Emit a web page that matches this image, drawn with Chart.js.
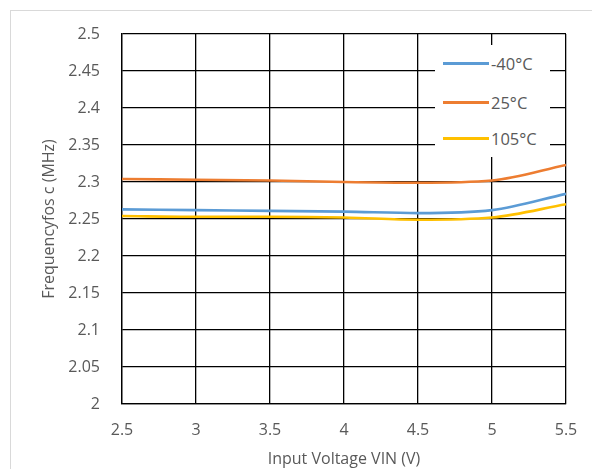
<!DOCTYPE html>
<html>
<head>
<meta charset="utf-8">
<script src="https://cdn.jsdelivr.net/npm/chart.js@4.4.0/dist/chart.umd.min.js"></script>
<style>
  html, body { margin: 0; padding: 0; background: #fff; }
  #wrap { position: relative; width: 592px; height: 469px; overflow: hidden; }
  #frame { position: absolute; left: 10px; top: 10px; width: 600px; height: 480px; border: 1px solid #d9d9d9; }
  canvas { position: absolute; left: 0; top: 0; }
  #legend { position: absolute; left: 435px; top: 45px; width: 115px; height: 112px; background: #fff;
    font-family: "Open Sans", sans-serif; font-size: 16.5px; color: #595959; }
  #legend .item { position: absolute; left: 8px; height: 22px; display: flex; align-items: center; }
  #legend .swatch { width: 46px; height: 3px; margin-right: 2px; }
</style>
</head>
<body>
<div id="wrap">
  <div id="frame"></div>
  <canvas id="freqChart" width="592" height="469"></canvas>
  <div id="legend"></div>
</div>
<script>
const vin = [2.5, 3, 3.5, 4, 4.5, 5, 5.5];
const freqM40 = [2.263, 2.262, 2.261, 2.260, 2.258, 2.262, 2.284];
const freq25 = [2.304, 2.303, 2.302, 2.300, 2.299, 2.302, 2.323];
const freq105 = [2.254, 2.253, 2.253, 2.252, 2.249, 2.252, 2.270];
const seriesNames = ['-40°C', '25°C', '105°C'];
const seriesColors = ['#5B9BD5', '#ED7D31', '#FFC000'];
const xTickLabels = ['2.5', '3', '3.5', '4', '4.5', '5', '5.5'];
const yTickLabels = ['2', '2.05', '2.1', '2.15', '2.2', '2.25', '2.3', '2.35', '2.4', '2.45', '2.5'];

const tickFont = { family: 'Open Sans', size: 16 };
const titleFont = { family: 'Open Sans', size: 16 };

function pts(ys) {
    return vin.map((x, i) => ({ x: x, y: ys[i] }));
}

const datasets = [freqM40, freq25, freq105].map((ys, i) => ({
    label: seriesNames[i],
    data: pts(ys),
    borderColor: seriesColors[i],
    backgroundColor: seriesColors[i],
    borderWidth: 2.6,
    pointRadius: 0,
    tension: 0.4,
    cubicInterpolationMode: 'monotone',
}));

const config = {
    type: 'line',
    data: { datasets: datasets },
    options: {
        responsive: false,
        animation: false,
        layout: { padding: { left: 36, top: 34, right: 26, bottom: 0 } },
        plugins: {
            legend: { display: false },
            tooltip: { enabled: false },
        },
        scales: {
            x: {
                type: 'linear',
                min: 2.5,
                max: 5.5,
                grid: { color: '#000', lineWidth: 1.3, drawTicks: false },
                border: { color: '#000', width: 1.3 },
                ticks: {
                    stepSize: 0.5,
                    padding: 17,
                    color: '#595959',
                    font: tickFont,
                    callback: (v, i) => xTickLabels[i],
                },
                title: {
                    display: true,
                    text: 'Input Voltage VIN (V)',
                    color: '#595959',
                    font: titleFont,
                    padding: { top: 0, bottom: 0 },
                },
                afterFit: (s) => { s.height = 65; s.paddingLeft = 0; s.paddingRight = 0; },
            },
            y: {
                min: 2,
                max: 2.5,
                grid: { color: '#000', lineWidth: 1.3, drawTicks: false },
                border: { color: '#000', width: 1.3 },
                ticks: {
                    stepSize: 0.05,
                    padding: 22,
                    color: '#595959',
                    font: tickFont,
                    callback: (v, i) => yTickLabels[i],
                },
                title: {
                    display: true,
                    text: 'Frequencyfos c (MHz)',
                    color: '#595959',
                    font: titleFont,
                },
                afterFit: (s) => { s.width = 86; s.paddingTop = 0; s.paddingBottom = 0; },
            },
        },
    },
};

const ctx = document.getElementById('freqChart').getContext('2d');
const freqChart = new Chart(ctx, config);

// legend drawn as html over the plot
const legendEl = document.getElementById('legend');
const legendTops = [7, 46, 82];
seriesNames.forEach((name, i) => {
    const item = document.createElement('div');
    item.className = 'item';
    item.style.top = legendTops[i] + 'px';
    item.innerHTML = '<span class="swatch" style="background:' + seriesColors[i] + '"></span>' + name;
    legendEl.appendChild(item);
});
</script>
</body>
</html>
